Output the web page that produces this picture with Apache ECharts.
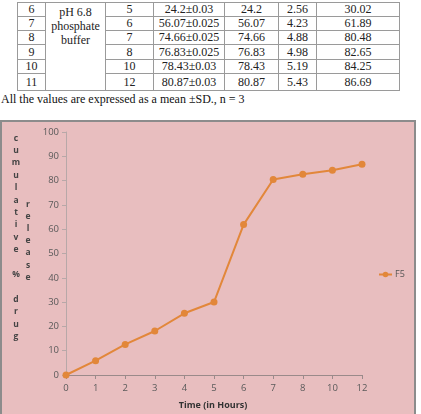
<!DOCTYPE html>
<html>
<head>
<meta charset="utf-8">
<script src="https://cdn.jsdelivr.net/npm/echarts@6/dist/echarts.min.js"></script>
<style>
  body { margin: 0; background: #fff; width: 421px; height: 414px; overflow: hidden; position: relative; }
  #tbl { position: absolute; left: 17px; top: 2px; width: 382px; table-layout: fixed; border-collapse: collapse; font-family: "Liberation Serif", serif; font-size: 12px; color: #222; }
  #tbl td { border: 1px solid #9a9a9a; text-align: center; padding: 0; line-height: 13px; white-space: nowrap; }
  #note { position: absolute; left: 1px; top: 92px; font-family: "Liberation Serif", serif; font-size: 12px; color: #111; }
  #main { position: absolute; left: 0; top: 120px; width: 412px; height: 296px; border: 2px solid #8c8c8c; }
</style>
</head>
<body>
<table id="tbl"></table>
<div id="note">All the values are expressed as a mean ±SD., n = 3</div>
<div id="main"></div>
<script>
// table rows (top of table is cut off in the picture)
const rowNo = ['6', '7', '8', '9', '10', '11'];
const medium = 'pH 6.8<br>phosphate<br>buffer';
const hours = ['5', '6', '7', '8', '10', '12'];
const meanSd = ['24.2±0.03', '56.07±0.025', '74.66±0.025', '76.83±0.025', '78.43±0.03', '80.87±0.03'];
const amount = ['24.2', '56.07', '74.66', '76.83', '78.43', '80.87'];
const col5 = ['2.56', '4.23', '4.88', '4.98', '5.19', '5.43'];
const cumRelease = ['30.02', '61.89', '80.48', '82.65', '84.25', '86.69'];

const colW = [28, 60, 48, 71, 54, 38, 83];
const rowH = [14, 14, 14, 15, 14, 17];

let html = '<colgroup>' + colW.map(w => '<col style="width:' + w + 'px">').join('') + '</colgroup>';
rowNo.forEach((r, i) => {
  html += '<tr style="height:' + rowH[i] + 'px">';
  html += '<td>' + r + '</td>';
  if (i === 0) html += '<td rowspan="6" style="vertical-align:top;padding-top:2px;line-height:14px">' + medium + '</td>';
  html += '<td>' + hours[i] + '</td>';
  html += '<td>' + meanSd[i] + '</td>';
  html += '<td>' + amount[i] + '</td>';
  html += '<td>' + col5[i] + '</td>';
  html += '<td>' + cumRelease[i] + '</td>';
  html += '</tr>';
});
document.getElementById('tbl').innerHTML = html;

// chart data
const timeLabels = ['0', '1', '2', '3', '4', '5', '6', '7', '8', '10', '12'];
const f5 = [0, 5.9, 12.6, 18.1, 25.4, 30.02, 61.89, 80.48, 82.65, 84.25, 86.69];

const lineColor = '#E2873A';
const labelFont = '"Open Sans", sans-serif';

let myChart = echarts.init(document.getElementById('main'));
myChart.setOption({
  backgroundColor: '#E8BEBF',
  animation: false,
  grid: { left: 64, right: 52, top: 10, bottom: 43 },
  legend: {
    data: ['F5'],
    left: 376,
    top: 148,
    padding: 0,
    itemWidth: 13,
    itemHeight: 7,
    itemGap: 2,
    textStyle: { fontSize: 9, color: '#555', fontFamily: labelFont, padding: [0, 0, 0, -2] }
  },
  xAxis: {
    type: 'category',
    data: timeLabels,
    boundaryGap: false,
    axisLine: { lineStyle: { color: '#9a8a8a', width: 1 } },
    axisTick: { show: true, length: 4, lineStyle: { color: '#9a8a8a' } },
    axisLabel: { fontSize: 9.5, color: '#5a5a5a', margin: 8, fontFamily: labelFont }
  },
  yAxis: {
    type: 'value',
    min: 0,
    max: 100,
    interval: 10,
    splitLine: { show: false },
    axisLine: { show: true, lineStyle: { color: '#b8a8a8', width: 1 } },
    axisTick: { show: true, length: 4, lineStyle: { color: '#b8a8a8' } },
    axisLabel: { fontSize: 9.5, color: '#5a5a5a', margin: 7, fontFamily: labelFont }
  },
  graphic: [
    {
      type: 'text', x: 211, y: 279,
      style: { text: 'Time (in Hours)', fontSize: 9, fontWeight: 'bold', fill: '#333', fontFamily: labelFont, align: 'center' }
    },
    {
      type: 'text', x: 14, y: 10,
      style: {
        text: 'c\nu\nm\nu\nl\na\nt\ni\nv\ne\n\n%\n\nd\nr\nu\ng',
        fontSize: 8.5, fontWeight: 'bold', fill: '#444', lineHeight: 12.4, align: 'center', fontFamily: labelFont
      }
    },
    {
      type: 'text', x: 26, y: 76,
      style: {
        text: 'r\ne\nl\ne\na\ns\ne',
        fontSize: 8.5, fontWeight: 'bold', fill: '#444', lineHeight: 12.2, align: 'center', fontFamily: labelFont
      }
    }
  ],
  series: [
    {
      name: 'F5',
      type: 'line',
      data: f5,
      symbol: 'circle',
      symbolSize: 7,
      lineStyle: { color: lineColor, width: 2 },
      itemStyle: { color: lineColor }
    }
  ]
});
</script>
</body>
</html>
